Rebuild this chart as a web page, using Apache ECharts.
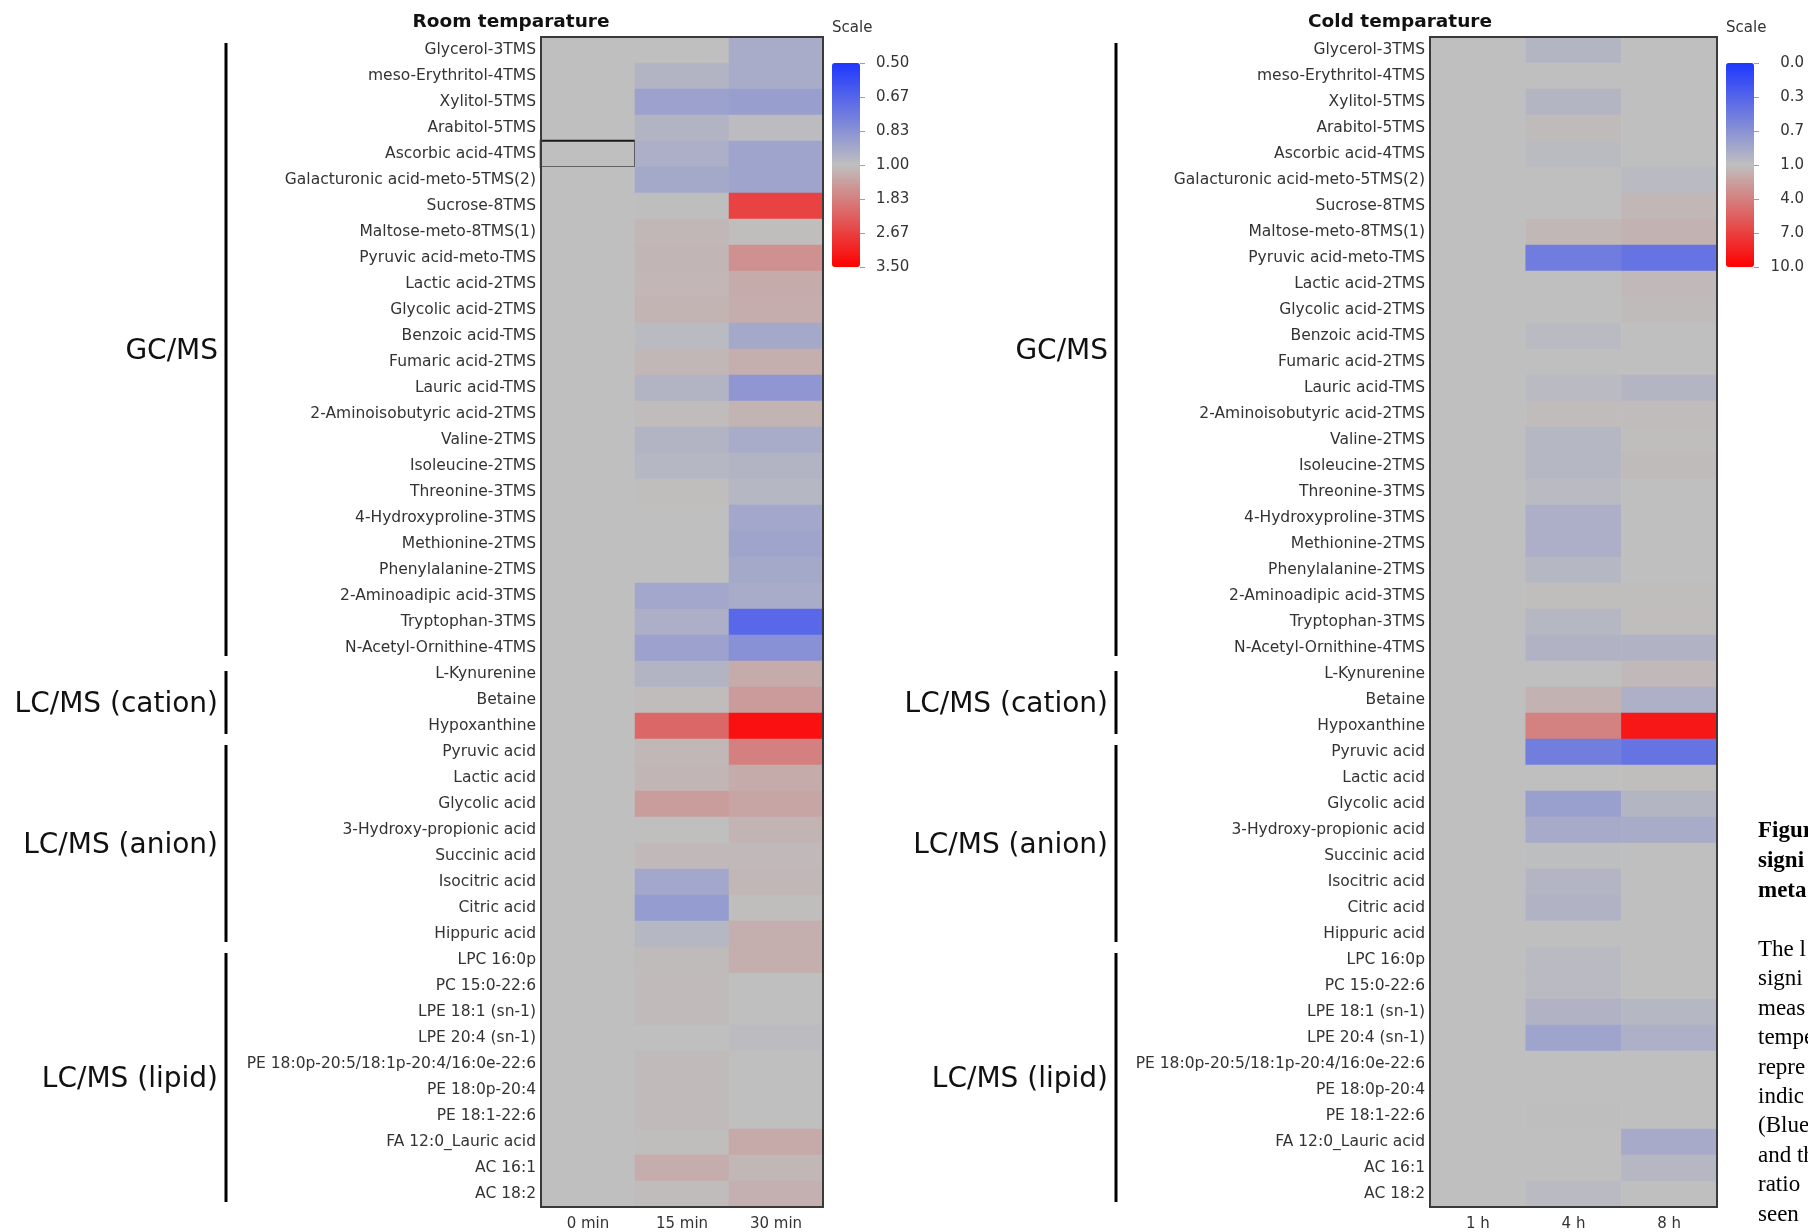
<!DOCTYPE html>
<html><head><meta charset="utf-8">
<script src="https://cdn.jsdelivr.net/npm/echarts@6/dist/echarts.min.js"></script>
<style>html,body{margin:0;padding:0;background:#fff}#c{width:1808px;height:1232px}</style>
</head><body><div id="c"></div>
<script>
// ---------- data ----------
const rowLabels = [
  'Glycerol-3TMS','meso-Erythritol-4TMS','Xylitol-5TMS','Arabitol-5TMS','Ascorbic acid-4TMS',
  'Galacturonic acid-meto-5TMS(2)','Sucrose-8TMS','Maltose-meto-8TMS(1)','Pyruvic acid-meto-TMS','Lactic acid-2TMS',
  'Glycolic acid-2TMS','Benzoic acid-TMS','Fumaric acid-2TMS','Lauric acid-TMS','2-Aminoisobutyric acid-2TMS',
  'Valine-2TMS','Isoleucine-2TMS','Threonine-3TMS','4-Hydroxyproline-3TMS','Methionine-2TMS',
  'Phenylalanine-2TMS','2-Aminoadipic acid-3TMS','Tryptophan-3TMS','N-Acetyl-Ornithine-4TMS',
  'L-Kynurenine','Betaine','Hypoxanthine',
  'Pyruvic acid','Lactic acid','Glycolic acid','3-Hydroxy-propionic acid','Succinic acid','Isocitric acid','Citric acid','Hippuric acid',
  'LPC 16:0p','PC 15:0-22:6','LPE 18:1 (sn-1)','LPE 20:4 (sn-1)','PE 18:0p-20:5/18:1p-20:4/16:0e-22:6',
  'PE 18:0p-20:4','PE 18:1-22:6','FA 12:0_Lauric acid','AC 16:1','AC 18:2'
];
const groupNames = ['GC/MS','LC/MS (cation)','LC/MS (anion)','LC/MS (lipid)'];
const groupSizes = [24, 3, 8, 10];

const roomTitle = 'Room temparature';
const coldTitle = 'Cold temparature';
const roomCols = ['0 min','15 min','30 min'];
const coldCols = ['1 h','4 h','8 h'];

const room0min = [1.00,1.00,1.00,1.00,1.00,1.00,1.00,1.00,1.00,1.00,1.00,1.00,1.00,1.00,1.00,1.00,1.00,1.00,1.00,1.00,1.00,1.00,1.00,1.00,1.00,1.00,1.00,1.00,1.00,1.00,1.00,1.00,1.00,1.00,1.00,1.00,1.00,1.00,1.00,1.00,1.00,1.00,1.00,1.00,1.00];
const room15min = [1.00,0.96,0.89,0.96,0.94,0.92,1.01,1.10,1.13,1.12,1.15,0.98,1.10,0.96,1.04,0.96,0.97,1.02,1.00,1.00,1.00,0.91,0.94,0.89,0.96,1.04,2.15,1.10,1.13,1.44,1.00,1.08,0.91,0.87,0.97,1.05,1.07,1.07,1.00,1.07,1.07,1.07,1.02,1.24,1.04];
const room30min = [0.93,0.93,0.88,0.99,0.90,0.90,2.64,1.03,1.62,1.26,1.23,0.92,1.22,0.85,1.15,0.93,0.96,0.97,0.91,0.90,0.92,0.93,0.68,0.83,1.26,1.47,3.29,1.83,1.26,1.34,1.15,1.08,1.10,1.02,1.22,1.22,1.00,1.00,0.99,1.00,1.00,1.00,1.29,1.10,1.19];

const cold1h = [1.00,1.00,1.00,1.00,1.00,1.00,1.00,1.00,1.00,1.00,1.00,1.00,1.00,1.00,1.00,1.00,1.00,1.00,1.00,1.00,1.00,1.00,1.00,1.00,1.00,1.00,1.00,1.00,1.00,1.00,1.00,1.00,1.00,1.00,1.00,1.00,1.00,1.00,1.00,1.00,1.00,1.00,1.00,1.00,1.00];
const cold4h = [0.93,1.00,0.93,1.20,0.97,1.00,1.00,1.40,0.51,1.00,1.00,0.96,1.00,0.96,1.15,0.94,0.94,0.96,0.88,0.88,0.94,1.10,0.94,0.91,1.00,1.60,3.90,0.52,1.00,0.77,0.85,0.99,0.93,0.91,1.00,0.96,0.96,0.91,0.80,1.00,1.00,1.05,1.00,1.00,0.96];
const cold8h = [1.00,1.00,1.00,1.00,1.00,0.96,1.40,1.60,0.44,1.30,1.20,1.00,1.00,0.93,1.15,1.10,1.20,1.00,1.00,1.00,1.00,1.10,1.10,0.91,1.30,0.89,8.90,0.44,1.10,0.93,0.86,1.00,1.00,1.00,1.00,1.00,1.00,0.94,0.89,1.00,1.00,1.00,0.85,0.94,1.00];

const roomScale = ['0.50','0.67','0.83','1.00','1.83','2.67','3.50'];
const coldScale = ['0.0','0.3','0.7','1.0','4.0','7.0','10.0'];
const scaleTitle = 'Scale';
const selectedCell = { row: 'Ascorbic acid-4TMS', col: '0 min' };

const captionBold = ['Figur','signi','meta'];
const captionBody = ['The l','signi','meas','tempe','repre','indic','(Blue','and th','ratio','seen'];

// ---------- layout / style ----------
const FONT = '"DejaVu Sans", Verdana, sans-serif';
const BLUE = '#1e37ff', GRAY = '#bfbfbf', RED = '#ff0000';
const TOP = 37, H = 1170, NROW = rowLabels.length, ROWH = H / NROW;
const room = { left: 541, width: 282, bracketX: 226, labelRight: 218, titleX: 511,
  legendX: 832, tickAxisX: 860, lo: 0.5, hi: 3.5 };
const cold = { left: 1430, width: 287, bracketX: 1116, labelRight: 1108, titleX: 1400,
  legendX: 1726, tickAxisX: 1754, lo: 0.0, hi: 10.0 };

function pos(v, lo, hi) {
  let p = v < 1 ? 0.5 * (v - lo) / (1 - lo) : 0.5 + 0.5 * (v - 1) / (hi - 1);
  return Math.max(0, Math.min(1, p));
}
function buildData(cols, colArrays, cfg) {
  const out = [];
  colArrays.forEach((arr, c) => {
    arr.forEach((v, r) => {
      const item = { value: [c, r, pos(v, cfg.lo, cfg.hi), v] };
      if (cols[c] === selectedCell.col && rowLabels[r] === selectedCell.row) {
        item.itemStyle = { borderColor: '#1a1a1a', borderWidth: 2 };
      }
      out.push(item);
    });
  });
  return out;
}
const roomData = buildData(roomCols, [room0min, room15min, room30min], room);
const coldData = buildData(coldCols, [cold1h, cold4h, cold8h], cold);

function heatGrid(cfg) {
  return { left: cfg.left, top: TOP, width: cfg.width, height: H, show: true, z: 5,
    backgroundColor: 'transparent', borderColor: '#3a3a3a', borderWidth: 2, outerBoundsMode: 'none' };
}
function catX(gi, cols) {
  return { type: 'category', gridIndex: gi, data: cols, axisLine: { show: false }, axisTick: { show: false },
    splitLine: { show: false },
    axisLabel: { fontFamily: FONT, fontSize: 15, color: '#333', margin: 10 } };
}
function catY(gi) {
  return { type: 'category', gridIndex: gi, data: rowLabels, inverse: true, axisLine: { show: false },
    axisTick: { show: false }, splitLine: { show: false },
    axisLabel: { fontFamily: FONT, fontSize: 15.5, color: '#333', margin: 5, interval: 0, padding: [5, 0, 0, 0] } };
}

const graphics = [];
function addDecor(cfg, title) {
  graphics.push({ type: 'text', x: cfg.titleX, y: 22, style: { text: title,
    font: 'bold 18.5px ' + FONT, fill: '#111', align: 'center', verticalAlign: 'middle' } });
  graphics.push({ type: 'text', x: cfg.legendX, y: 28, style: { text: scaleTitle,
    font: '15px ' + FONT, fill: '#333', align: 'left', verticalAlign: 'middle' } });
  let start = 0;
  groupSizes.forEach((n, i) => {
    const y1 = TOP + start * ROWH + (i === 1 ? 10 : 6), y2 = TOP + (start + n) * ROWH - 5;
    graphics.push({ type: 'line', shape: { x1: cfg.bracketX, y1: y1, x2: cfg.bracketX, y2: y2 },
      style: { stroke: '#000', lineWidth: 3 } });
    graphics.push({ type: 'text', x: cfg.labelRight, y: (y1 + y2) / 2 + 2, style: { text: groupNames[i],
      font: '28px ' + FONT, fill: '#111', align: 'right', verticalAlign: 'middle' } });
    start += n;
  });
}
addDecor(room, roomTitle);
addDecor(cold, coldTitle);
captionBold.forEach((t, i) => graphics.push({ type: 'text', x: 1758, y: 831 + i * 30,
  style: { text: t, font: 'bold 23px "Liberation Serif", "Times New Roman", serif', fill: '#000', verticalAlign: 'middle' } }));
captionBody.forEach((t, i) => graphics.push({ type: 'text', x: 1758, y: 950 + i * 29.4,
  style: { text: t, font: '23px "Liberation Serif", "Times New Roman", serif', fill: '#000', verticalAlign: 'middle' } }));

const tickStyle = { show: true, inside: true, length: 5, lineStyle: { color: '#9a9ac8', width: 1 } };
const option = {
  backgroundColor: '#fff',
  animation: false,
  grid: [
    heatGrid(room), heatGrid(cold),
    { left: room.tickAxisX, top: 63, width: 60, height: 204, outerBoundsMode: 'none' },
    { left: cold.tickAxisX, top: 63, width: 52, height: 204, outerBoundsMode: 'none' }
  ],
  xAxis: [
    catX(0, roomCols), catX(1, coldCols),
    { type: 'value', gridIndex: 2, show: false }, { type: 'value', gridIndex: 3, show: false }
  ],
  yAxis: [
    catY(0), catY(1),
    { type: 'value', gridIndex: 2, min: 0, max: 6, interval: 1, inverse: true, position: 'left',
      axisLine: { show: false }, splitLine: { show: false }, axisTick: tickStyle,
      axisLabel: { inside: true, margin: 16, fontFamily: FONT, fontSize: 15, color: '#333', padding: [4, 0, 0, 0],
        formatter: v => roomScale[v] } },
    { type: 'value', gridIndex: 3, min: 0, max: 6, interval: 1, inverse: true, position: 'left',
      axisLine: { show: false }, splitLine: { show: false }, axisTick: tickStyle, axisLabel: { show: false } },
    { type: 'value', gridIndex: 3, min: 0, max: 6, interval: 1, inverse: true, position: 'right',
      axisLine: { show: false }, splitLine: { show: false }, axisTick: { show: false },
      axisLabel: { inside: true, margin: 2, fontFamily: FONT, fontSize: 15, color: '#333', padding: [4, 0, 0, 0],
        formatter: v => coldScale[v] } }
  ],
  visualMap: [
    { type: 'continuous', seriesIndex: 0, dimension: 2, min: 0, max: 1, inverse: true, calculable: false,
      orient: 'vertical', left: room.legendX, top: 63, itemWidth: 28, itemHeight: 204, padding: 0,
      text: null, showLabel: false, hoverLink: false, inRange: { color: [BLUE, GRAY, RED] } },
    { type: 'continuous', seriesIndex: 1, dimension: 2, min: 0, max: 1, inverse: true, calculable: false,
      orient: 'vertical', left: cold.legendX, top: 63, itemWidth: 28, itemHeight: 204, padding: 0,
      text: null, showLabel: false, hoverLink: false, inRange: { color: [BLUE, GRAY, RED] } }
  ],
  series: [
    { type: 'heatmap', xAxisIndex: 0, yAxisIndex: 0, data: roomData, emphasis: { disabled: true } },
    { type: 'heatmap', xAxisIndex: 1, yAxisIndex: 1, data: coldData, emphasis: { disabled: true } }
  ],
  graphic: graphics
};
const chart = echarts.init(document.getElementById('c'), null, { renderer: 'canvas' });
chart.setOption(option);
</script></body></html>
